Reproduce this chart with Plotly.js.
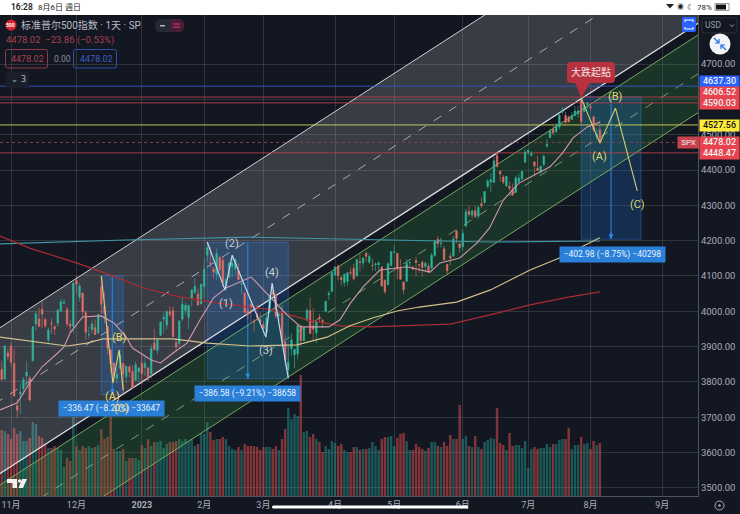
<!DOCTYPE html>
<html><head><meta charset="utf-8">
<script src="https://cdn.plot.ly/plotly-3.0.1.min.js"></script>
<style>html,body{margin:0;padding:0;background:#131722}#c{width:740px;height:514px}</style>
</head><body><div id="c"></div>
<script>
const opens=[3835,3808,3882,
3902,3853,3733,3767,3781,3817,3811,3860,3964,3978,4006,3977,3919,3966,3956,3966,4000,4023,4005,3964,3957,
4087,4040,4052,3997,3933,3948,3954,3939,4069,4016,3958,3891,3854,3810,3839,3853,3815,3843,3830,3805,3829,
3853,3840,3840,3823,3911,3889,3932,3978,3961,3999,4002,3912,3909,3978,4002,3983,4036,4054,4049,4021,
4070,4159,4137,4120,4105,4153,4144,4069,4097,4127,4120,4115,4077,4052,4002,4019,3973,3992,3977,
3963,3939,3998,4055,4048,3988,3999,3913,3835,3894,3877,3879,3959,3917,3976,4002,3959,3939,3983,3974,4000,4047,4056,
4102,4128,4095,4081,4085,4110,4122,4100,4140,4137,4164,4139,4130,4132,4132,4126,4088,4075,4130,
4167,4164,4122,4083,4085,4137,4124,4144,4132,4139,4127,4128,4123,4158,4204,4191,4177,4133,4156,4156,4227,4191,
4183,4241,4283,4272,4285,4269,4305,4308,4353,4366,4365,4441,4396,4380,4355,4354,4345,4337,4367,4375,4422,
4450,4442,4423,4405,4394,4416,4468,4492,4515,4509,4522,4564,4554,4550,4543,4555,4559,4598,4566,4585,
4579,4551,4494,4514];
const highs=[3860,3905,3894,
3912,3894,3751,3796,3814,3859,3818,3958,4001,4009,4029,3983,3954,3980,3962,4006,4034,4034,4012,3977,4080,
4101,4080,4052,4002,3958,3974,3977,3991,4101,4054,3958,3891,3855,3838,3890,3853,3846,3847,3848,3858,3840,
3878,3873,3840,3906,3951,3920,3970,3998,4004,4015,4014,3923,3973,4039,4024,4020,4062,4094,4064,4077,
4149,4195,4182,4125,4177,4157,4156,4094,4139,4160,4148,4137,4082,4052,4017,4028,3978,4018,3998,
3972,3991,4048,4078,4050,4000,4018,3934,3905,3937,3894,3964,3959,3957,4009,4039,4008,3973,3993,3979,4031,4058,4111,
4128,4133,4100,4107,4110,4124,4134,4150,4163,4152,4169,4163,4149,4138,4142,4126,4090,4138,4170,
4187,4164,4148,4083,4147,4142,4130,4154,4133,4144,4141,4136,4165,4202,4213,4209,4186,4133,4166,4213,4231,4195,
4232,4291,4299,4288,4299,4298,4323,4340,4375,4392,4439,4448,4400,4386,4382,4367,4362,4384,4390,4398,4458,
4456,4454,4423,4440,4413,4444,4488,4517,4528,4533,4562,4578,4565,4555,4563,4581,4582,4607,4590,4594,
4585,4551,4519,4540];
const lows=[3804,3808,3863,
3844,3759,3698,3709,3765,3786,3744,3860,3945,3956,3953,3954,3907,3936,3933,3957,3999,4021,3956,3938,3939,
4051,4027,3984,3918,3923,3936,3933,3935,3993,3966,3879,3828,3800,3796,3839,3764,3797,3813,3781,3805,3800,
3794,3816,3802,3810,3890,3877,3929,3938,3948,3985,3927,3886,3898,3972,3990,3949,4013,4049,4016,4020,
4037,4142,4123,4093,4088,4112,4070,4061,4093,4095,4104,4089,4048,3995,3977,3969,3943,3974,3969,
3939,3928,3995,4045,3980,3970,3909,3846,3809,3874,3838,3864,3901,3917,3971,3936,3919,3909,3969,3952,4000,4032,4056,
4102,4087,4073,4070,4073,4103,4087,4099,4113,4123,4140,4134,4115,4114,4118,4071,4049,4075,4127,
4164,4090,4089,4048,4085,4124,4117,4099,4109,4099,4110,4110,4114,4154,4180,4180,4143,4104,4130,4156,4192,4166,
4172,4241,4267,4263,4264,4261,4292,4304,4349,4338,4363,4407,4367,4360,4352,4341,4328,4335,4360,4372,4422,
4442,4437,4385,4397,4390,4408,4463,4489,4500,4505,4515,4557,4528,4536,4541,4552,4548,4529,4564,4573,
4568,4506,4486,4475];
const closes=[3807,3901,3872,
3856,3760,3720,3771,3807,3828,3749,3956,3993,3957,3992,3959,3947,3965,3950,4004,4027,4026,3964,3958,4080,
4077,4072,3999,3941,3934,3964,3934,3991,4020,3995,3896,3852,3818,3822,3878,3822,3845,3829,3783,3849,3840,
3824,3853,3808,3895,3892,3919,3970,3983,3999,3991,3929,3899,3973,4020,4017,4016,4060,4071,4018,4077,
4119,4180,4136,4111,4164,4118,4082,4090,4137,4136,4148,4090,4079,3997,3991,4012,3970,3982,3970,
3951,3981,4046,4048,3986,3992,3918,3862,3856,3919,3892,3960,3917,3952,4003,3937,3949,3971,3978,3971,4028,4051,4109,
4125,4101,4090,4105,4109,4109,4092,4146,4138,4151,4155,4155,4130,4134,4137,4072,4056,4135,4169,
4168,4120,4091,4061,4136,4138,4119,4138,4131,4124,4136,4110,4159,4198,4192,4193,4146,4115,4151,4205,4206,4180,
4221,4282,4274,4284,4268,4294,4299,4339,4369,4373,4426,4410,4389,4366,4382,4348,4329,4378,4377,4396,4450,
4456,4447,4412,4399,4410,4439,4472,4510,4505,4523,4555,4566,4535,4536,4555,4567,4567,4537,4582,4589,
4577,4513,4502,4478.02];
const volumes=[66,65,62,
57,68,62,65,55,55,58,74,72,60,58,52,48,48,50,48,46,29,38,35,79,
50,46,50,48,50,48,49,51,67,57,59,82,47,45,45,47,35,38,38,38,36,
51,48,57,50,54,54,55,48,52,54,54,55,57,55,57,55,57,50,52,63,
62,74,64,56,57,57,59,57,50,47,46,49,46,52,50,50,50,49,46,
49,49,49,47,50,46,57,67,88,77,82,80,121,64,65,59,62,57,54,44,50,47,55,
53,50,52,46,44,44,49,49,46,47,47,48,54,50,46,57,59,59,60,
50,58,62,63,55,46,46,52,49,47,45,48,54,54,50,49,54,50,61,57,57,91,
57,60,50,49,60,49,47,54,56,58,57,88,53,51,46,63,50,51,51,48,55,
28,47,49,47,48,48,52,49,52,52,56,57,57,68,47,51,51,59,52,53,
47,55,51,53];
const firstBar=-3;
const barIndex=closes.map((_,k)=>k+firstBar);

const monthBars=[0,21,42,62,81,104,123,145,166,186,209];
const monthLabels=['11月','12月','<b>2023</b>','2月','3月','4月','5月','6月','7月','8月','9月'];
const priceTicks=[3500,3600,3700,3800,3900,4000,4100,4200,4300,4400,4500,4600,4700];
const priceTickText=['3500.00','3600.00','3700.00','3800.00','3900.00','4000.00','4100.00','4200.00','4300.00','4400.00','4500.00','','4700.00'];

const ma20Bars=[-3.5,2,6,10,15,17,19,23,29,33,37,39,45,48,52,56.5,60.6,65,69,77,78,83,88.6,93,102,105.6,109,113,118.4,127,134.5,137.7,144,149.5,153.6,158,163,168,173,177,180.4,185,189];
const ma20Vals=[3721,3741,3797,3843,3882,3899,3939,3984,3987,3967,3927,3896,3862,3854,3882,3910,3975,4038,4066,4097,4089,4041,3990,3956,3956,3976,4024,4069,4117,4126,4111,4137,4151,4193,4236,4315,4363,4386,4409,4448,4491,4522,4536];
const ma50Bars=[-3.5,0.6,11.5,18,24.4,29.5,41.4,52,63,76.7,91.8,101.4,108.8,116,123.9,131,143,153.7,166.6,176,189];
const ma50Vals=[3927,3922,3910,3902,3910,3922,3922,3922,3910,3902,3905,3927,3959,3981,4001,4012,4026,4060,4117,4151,4208];
const ma100Bars=[-3.5,6,21,31.8,42.4,54.2,66,76.7,84,95,105.6,115.2,127,141,153.7,166.6,179.4,189];
const ma100Vals=[4213,4179,4137,4103,4066,4041,4024,4012,4004,3976,3959,3956,3959,3964,3990,4018,4041,4055];
const ma200Bars=[-3.5,36.6,76.7,115,153.7,189];
const ma200Vals=[4191,4202,4210,4202,4196,4199];

const channelEnds=[-10,240];
const whiteUpper=[3917,5339], whiteMid=[3711,5132], whiteLower=[3504,4926];
const greenUpper=[3472,4893], greenMid=[3361,4783], greenLower=[3251,4673];

const levels=[4637.30,4606.52,4590.03,4527.56,4478.02,4448.47];
const levelTagY=[82,92.7,103,125.7,142.7,154];
const measureBars=[[29,36],[63,89],[183,202.2]];
const measurePrices=[[4100.96,3764.49],[4195.44,3808.86],[4607.07,4204.09]];
const measureTexts=['−336.47 (−8.20%) −33647','−386.58 (−9.21%) −38658','−402.98 (−8.75%) −40298'];
const measureLabelAt=[[32.2,3725],[76,3767],[192.9,4161]];

const waveABars=[29,32.7,34.7,36], waveAVals=[4100,3797,3891,3777];
const waveBBars=[63,68.7,71,81.8,83.8,89], waveBVals=[4196,4060,4159,3927,4080,3811];
const waveCBars=[183,189,194,201], waveCVals=[4604,4476,4575,4341];
const waveLabels=[['(B)',34.7,3925,'#e6d66a'],['(A)',32.7,3760,'#e6d66a'],['(C)',35.6,3724,'#e6d66a'],
 ['(1)',69,4021,'#c8ccd4'],['(2)',71,4193,'#c8ccd4'],['(3)',81.8,3888,'#c8ccd4'],['(4)',83.8,4111,'#c8ccd4'],
 ['(A)',189,4437,'#d6d870'],['(B)',194,4609,'#d6d870'],['(C)',201,4301,'#d6d870']];

const XR=[-3.53,220.5], YR=[3477.3,4838.7];
const FONT="Roboto,'Noto Sans CJK SC',sans-serif";
const X=p=>p/698, Y=p=>(496-p)/481;

function line(x,y,color,width,axis,dash){return {type:'scatter',mode:'lines',x,y,yaxis:axis,line:{color,width,dash:dash||'solid'},hoverinfo:'skip',showlegend:false};}
function band(up,lo,color,axis){return {type:'scatter',mode:'lines',x:[channelEnds[0],channelEnds[1],channelEnds[1],channelEnds[0],channelEnds[0]],y:[up[0],up[1],lo[1],lo[0],up[0]],fill:'toself',fillcolor:color,line:{width:0},yaxis:axis,hoverinfo:'skip',showlegend:false};}

const traces=[];
traces.push({type:'bar',x:barIndex,y:volumes,yaxis:'y',marker:{color:closes.map((c,k)=>c>=opens[k]?'rgba(38,166,154,.45)':'rgba(239,83,80,.5)'),line:{width:0}},hoverinfo:'skip',showlegend:false});
traces.push(band(whiteUpper,whiteLower,'rgba(255,255,255,.16)','y2'));
traces.push(band(greenUpper,greenLower,'rgba(60,160,70,.21)','y2'));
measureBars.forEach((b,k)=>{const p=measurePrices[k];
 traces.push({type:'scatter',mode:'lines',x:[b[0],b[1],b[1],b[0],b[0]],y:[p[0],p[0],p[1],p[1],p[0]],fill:'toself',fillcolor:'rgba(33,130,243,.22)',line:{color:'rgba(60,130,230,.5)',width:0.8},yaxis:'y2',hoverinfo:'skip',showlegend:false});
 const m=(b[0]+b[1])/2;
 traces.push(line([m,m],p,'#2f86e0',1,'y2'));
});
traces.push(line(channelEnds,whiteUpper,'#d0d1d5',1,'y2'));
traces.push(line(channelEnds,whiteLower,'#dddee2',1.3,'y2'));
traces.push(line(channelEnds,whiteMid,'#c4c5ca',0.8,'y2','dash'));
traces.push(line(channelEnds,greenUpper,'#7eb864',0.9,'y2'));
traces.push(line(channelEnds,greenLower,'#7eb864',0.9,'y2'));
traces.push(line(channelEnds,greenMid,'#9fc796',0.7,'y2','dash'));
const levelColors=['#3557c4','#b83e4a','#b83e4a','#d4d558','#8f444a','#b83e4a'];
levels.forEach((v,k)=>traces.push(line(XR,[v,v],levelColors[k],0.9,'y2',k===4?'dot':'solid')));

traces.push({type:'candlestick',x:barIndex,open:opens,high:highs,low:lows,close:closes,yaxis:'y3',
 increasing:{line:{color:'#2fb59c',width:0.6},fillcolor:'#2fb59c'},decreasing:{line:{color:'#e26e6a',width:0.6},fillcolor:'#e26e6a'},whiskerwidth:0,hoverinfo:'skip',showlegend:false});
traces.push(line(ma200Bars,ma200Vals,'#3f97a8',1.1,'y3'));
traces.push(line(ma100Bars,ma100Vals,'#a92c36',1.2,'y3'));
traces.push(line(ma50Bars,ma50Vals,'#d4c088',1.1,'y3'));
traces.push(line(ma20Bars,ma20Vals,'#d097ad',1.1,'y3'));
traces.push(line(waveABars,waveAVals,'#e0d068',1.1,'y3'));
traces.push(line(waveBBars,waveBVals,'#c0d8ea',1.2,'y3'));
traces.push(line(waveCBars,waveCVals,'#cfd16c',1.1,'y3'));
traces.push({type:'scatter',mode:'lines',x:[181,186,183,181],y:[4649,4649,4604,4649],fill:'toself',fillcolor:'#b8313f',line:{width:0},yaxis:'y3',hoverinfo:'skip',showlegend:false});

const ann=[];
function ui(text,x,y,opt){ann.push(Object.assign({text,x:X(x),y:Y(y),xref:'paper',yref:'paper',showarrow:false,xanchor:'left',yanchor:'middle',borderpad:0,font:{family:FONT,size:9,color:'#b2b5be'}},opt||{}));}
ui('16:28',10,7,{font:{family:FONT,size:8.5,color:'#222',weight:600}});
ui('8月6日 週日',37,7,{font:{family:FONT,size:8,color:'#222'}});
ui('◉',676,7,{font:{family:FONT,size:7,color:'#222'}});
ui('☾',686,7,{font:{family:"'DejaVu Sans'",size:8,color:'#222'}});
ui('78%',696,7,{font:{family:FONT,size:8,color:'#222'}});
ui('500',5,25,{font:{family:FONT,size:5,color:'#fff',weight:700}});
ui('标准普尔500指数 · 1天 · SP',20,25,{font:{family:FONT,size:10,color:'#b9bcc6'}});
ui('4478.02  −23.86 (−0.53%)',5,40,{font:{family:FONT,size:9.5,color:'#a8424f'}});
ui('4478.02',10,59,{font:{family:FONT,size:9,color:'#a8424f'}});
ui('0.00',53,59,{font:{family:FONT,size:8.5,color:'#8a8e99'}});
ui('4478.02',79,59,{font:{family:FONT,size:9,color:'#3a5cc0'}});
ui('⌄ 3',10,79,{font:{family:"'DejaVu Sans'",size:8.5,color:'#b2b5be'}});
ui('USD',704,25,{font:{family:FONT,size:8.5,color:'#9a9ea9'}});
const tagColor=['#2962ff','#e8434f','#e8434f','#ffeb3b','#e8434f','#e8434f'];
levels.forEach((v,k)=>ann.push({text:v.toFixed(2),xref:'paper',yref:'paper',x:X(719),y:Y(levelTagY[k]),xanchor:'center',yanchor:'middle',showarrow:false,bgcolor:tagColor[k],width:39,height:10.5,borderpad:0,font:{family:FONT,size:9,color:k===3?'#111':'#f0f0f0',weight:500}}));
ann.push({text:'SPX',xref:'paper',yref:'paper',x:X(688),y:Y(142.7),xanchor:'center',yanchor:'middle',showarrow:false,bgcolor:'#c6434e',width:21,height:10.5,borderpad:0,font:{family:FONT,size:8,color:'#eee'}});
measureTexts.forEach((t,k)=>{
 const m=(measureBars[k][0]+measureBars[k][1])/2;
 ann.push({text:'',x:m,y:measurePrices[k][1],ax:m,ay:measurePrices[k][1]+25,axref:'x',ayref:'y2',xref:'x',yref:'y2',showarrow:true,arrowhead:2,arrowsize:1,arrowwidth:1,arrowcolor:'#2f86e0'});
 ann.push({text:t,x:measureLabelAt[k][0],y:measureLabelAt[k][1],xref:'x',yref:'y2',showarrow:false,bgcolor:'#2a7fd9',width:105,height:15,borderpad:0,font:{family:FONT,size:8.5,color:'#e8f2fc'}});
});
waveLabels.forEach(w=>ann.push({text:w[0],x:w[1],y:w[2],xref:'x',yref:'y2',showarrow:false,font:{family:FONT,size:11,color:w[3]}}));
ann.push({text:'大跌起點',x:186.3,y:4677,xref:'x',yref:'y2',showarrow:false,font:{family:FONT,size:10,color:'#f4e4e4'}});

const sh=[];
function rect(x0,y0,x1,y1,fill,lineC,lw){sh.push({type:'rect',xref:'paper',yref:'paper',x0:X(x0),x1:X(x1),y0:Y(y0),y1:Y(y1),fillcolor:fill,line:{color:lineC||'rgba(0,0,0,0)',width:lineC?(lw||1):0},layer:'above'});}
function rrect(x0,y0,x1,y1,r,fill,lineC,lw){const p=[['M',x0+r,y0],['L',x1-r,y0],['Q',x1,y0,x1,y0+r],['L',x1,y1-r],['Q',x1,y1,x1-r,y1],['L',x0+r,y1],['Q',x0,y1,x0,y1-r],['L',x0,y0+r],['Q',x0,y0,x0+r,y0]];
 const d=p.map(s=>{let o=s[0];for(let i=1;i<s.length;i+=2)o+=' '+X(s[i])+' '+Y(s[i+1]);return o;}).join(' ')+' Z';
 sh.push({type:'path',xref:'paper',yref:'paper',path:d,fillcolor:fill,line:{color:lineC||'rgba(0,0,0,0)',width:lineC?(lw||1):0},layer:'above'});}
function circ(cx,cy,r,fill,lineC,lw){sh.push({type:'circle',xref:'paper',yref:'paper',x0:X(cx-r),x1:X(cx+r),y0:Y(cy-r),y1:Y(cy+r),fillcolor:fill,line:{color:lineC||'rgba(0,0,0,0)',width:lineC?(lw||1):0},layer:'above'});}
function poly(pts,fill,lineC,lw,closed){const d=pts.map((q,i)=>(i?'L ':'M ')+X(q[0])+' '+Y(q[1])).join(' ')+(closed===false?'':' Z');
 sh.push({type:'path',xref:'paper',yref:'paper',path:d,fillcolor:fill||'rgba(0,0,0,0)',line:{color:lineC||'rgba(0,0,0,0)',width:lineC?(lw||1):0},layer:'above'});}
rect(0,0,740,15,'#ffffff');
poly([[666,4],[670,8.5],[674,4]],'#222');
rect(715,3.5,729,10.5,'#ffffff','#555',0.6); rect(716,4.5,726,9.5,'#111');
circ(11,25,5.5,'#d8232f');
rrect(155,19,184,32,6,'#262a35'); rrect(170,19,184,32,6,'#4a1c35');
rect(160,25,165,26.5,'#b2b5be');
poly([[173,24],[180,24]],null,'#e0336e',1,false); poly([[173,27],[180,27]],null,'#e0336e',1,false);
rrect(5.5,49.5,47.5,68,2,'rgba(0,0,0,0)','#8f3a47',1);
rrect(73.5,49.5,116.5,68,2,'rgba(0,0,0,0)','#2f4fa8',1);
rrect(6,72,29,88,2,'#1b1f2b');
rrect(682,17,696,32,2,'#2962ff');
poly([[685,22],[685,20],[693,20],[693,22]],null,'#fff',1.1,false);
poly([[685,27],[685,29],[693,29],[693,27]],null,'#fff',1.1,false);
rrect(702,18,737,33,2,'rgba(0,0,0,0)','#2c303b',1);
poly([[730,24.5],[732,26.5],[734,24.5]],null,'#9a9ea9',1,false);
circ(720,44,10.5,'#f4f5f8');
poly([[714,38],[719,43]],null,'#2a6de0',1.3,false); poly([[719,39],[719,43],[715,43]],null,'#2a6de0',1.2,false);
poly([[726,50],[721,45]],null,'#2a6de0',1.3,false); poly([[721,49],[721,45],[725,45]],null,'#2a6de0',1.2,false);
rrect(567,62,615,83,4,'#b8313f');
poly([[7,479],[17,479],[17,488],[12.5,488],[12.5,483],[7,483]],'#f0f0f0');
circ(19.5,481,1.7,'#f0f0f0');
poly([[22,479],[27,479],[23,488],[18.5,488]],'#f0f0f0');
rrect(272,505.5,468,508.5,1.5,'#ffffff');
circ(719.5,505.5,4.5,'rgba(0,0,0,0)','#a9adb8',1); circ(719.5,505.5,1.3,'#a9adb8');

const layout={width:740,height:514,margin:{l:0,r:42,t:15,b:18,pad:0},paper_bgcolor:'#131722',plot_bgcolor:'#131722',
 font:{family:FONT,size:9,color:'#b2b5be'},showlegend:false,bargap:0.22,boxgap:0.3,dragmode:false,
 xaxis:{range:XR,type:'linear',tickmode:'array',tickvals:monthBars,ticktext:monthLabels,showgrid:true,gridcolor:'rgba(255,255,255,.12)',gridwidth:1,zeroline:false,showline:true,linecolor:'#50545f',linewidth:1,ticks:'',tickfont:{family:FONT,size:9,color:'#a9adb8'},rangeslider:{visible:false},tickangle:0,ticklabeloverflow:'allow'},
 yaxis:{range:[0,481],domain:[0,1],visible:false,fixedrange:true,showgrid:false,zeroline:false},
 yaxis2:{range:YR,overlaying:'y',side:'right',tickmode:'array',tickvals:priceTicks,ticktext:priceTickText,showgrid:true,gridcolor:'rgba(255,255,255,.12)',zeroline:false,showline:true,linecolor:'#50545f',linewidth:1,ticks:'',tickfont:{family:FONT,size:9.5,color:'#a9adb8'}},
 yaxis3:{range:YR,overlaying:'y',side:'right',visible:false,showgrid:false,zeroline:false},
 annotations:ann,shapes:sh};
Plotly.newPlot('c',traces,layout,{displayModeBar:false,staticPlot:true});
</script></body></html>
